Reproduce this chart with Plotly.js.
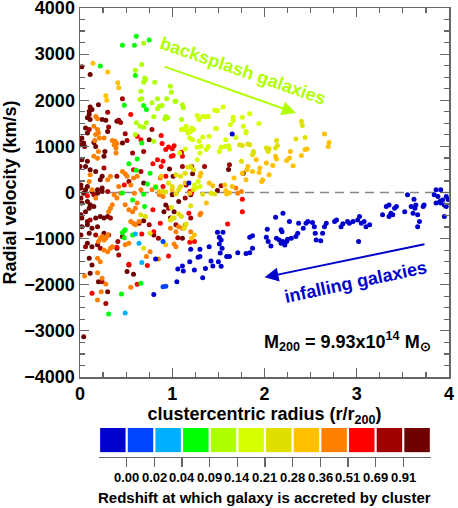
<!DOCTYPE html>
<html>
<head>
<meta charset="utf-8">
<script src="https://cdn.plot.ly/plotly-3.0.1.min.js"></script>
<style>body{margin:0;background:#fff;} #chart{width:458px;height:508px;}</style>
</head>
<body>
<div id="chart"></div>
<script>
// accretion redshift bins (tick labels under the colour bar) and their colours
var zLabels = ['0.00','0.02','0.04','0.09','0.14','0.21','0.28','0.36','0.51','0.69','0.91'];
var binColors = ['#0000CC','#0044FF','#00B0FF','#00FF00','#B0FF00','#D6FF00','#E0E000',
                 '#FFC000','#FF8000','#FF0000','#A00000','#6E0000'];

// [r/r200, radial velocity km/s] per bin
var infall = [[0.82,-1440],[0.80,-2210],[1.05,-1935],[1.06,-1660],[1.12,-1700],[1.11,-1595],[1.19,-1500],[1.24,-1680],
  [1.28,-1405],[1.30,-1230],[1.33,-1850],[1.36,-1645],[1.40,-1175],[1.44,-1595],[1.49,-860],[1.55,-860],[1.51,-970],
  [1.53,-1030],[1.51,-1115],[1.54,-1210],[1.52,-1310],[1.50,-1500],[1.53,-1600],[1.59,-1390],[1.62,-1390],[1.71,-1305],
  [1.80,-1320],[1.84,-1305],[1.87,-1210],[1.84,-970],[1.87,-940],[2.03,-795],[2.02,-970],[2.04,-1065],[2.07,-1160],
  [2.12,-535],[2.20,-450],[2.18,-810],[2.19,-850],[2.13,-990],[2.16,-1030],[2.20,-1065],[2.18,-1100],[2.22,-1140],
  [2.24,-1065],[2.27,-630],[2.25,-1015],[2.29,-990],[2.34,-955],[2.36,-885],[2.37,-665],[2.42,-775],[2.45,-665],
  [2.47,-630],[2.52,-650],[2.54,-740],[2.55,-885],[2.56,-1030],[2.61,-1045],[2.63,-885],[2.65,-740],[2.67,-665],
  [2.76,-630],[2.78,-595],[2.83,-740],[2.85,-680],[2.90,-630],[2.92,-665],[2.96,-630],[3.01,-595],[3.03,-520],
  [3.05,-665],[3.08,-630],[3.10,-740],[3.14,-700],[3.02,-1065],[3.28,-485],[3.32,-305],[3.35,-270],[3.37,-450],
  [3.39,-485],[3.35,-520],[3.41,-340],[3.43,-305],[3.52,-415],[3.55,-50],[3.59,-305],[3.63,-340],[3.64,-270],
  [3.61,-450],[3.66,-485],[3.68,-630],[3.66,-740],[3.72,-305],[3.73,-270],[3.62,-145],[3.86,60],[3.84,-50],
  [3.88,-85],[3.86,-230],[3.91,-230],[3.93,-160],[3.95,-270],[3.97,-305],[3.95,-520],[3.97,-85],[3.90,-195],
  [3.91,60],[3.99,-150],[1.65,1270],[1.18,205],[1.30,-1390],[1.42,-1485],[1.20,-1230]];
var z002 = [[0.90,-1065],[0.90,-2045],[0.93,-2030]];
var z004 = [[0.64,-1100],[0.60,-900],[0.67,-1520],[0.49,-2610]];
var z009 = [[0.61,3390],[0.46,3195],[0.59,3190],[0.75,3305],[0.22,2740],[0.60,2535],[0.48,1890],[0.69,1885],
  [0.72,1800],[0.67,1075],[0.62,725],[0.53,625],[0.61,480],[0.76,420],[0.73,185],[0.82,115],[0.46,-10],[0.69,-40],
  [0.48,-830],[0.46,-870],[0.49,-810],[0.48,-980],[0.57,-920],[0.57,-160],[0.70,-305],[0.45,-2200],[0.66,-1970],
  [0.31,-2635]];
var z014 = [[0.69,3235],[0.67,2775],[0.60,2650],[0.71,2450],[0.69,2390],[0.70,2485],[0.81,2390],[0.66,2195],
  [0.67,2030],[0.65,2015],[0.78,1945],[0.84,2030],[0.89,1885],[0.98,2305],[0.99,2175],[1.03,1980],[1.04,1980],
  [1.11,1905],[1.12,1835],[0.84,1815],[0.93,1650],[0.92,1595],[0.95,1620],[0.80,1640],[0.61,1510],[0.72,1510],
  [1.10,1580],[0.94,2035],[0.86,1870],[0.69,1415],[0.65,1435],[0.60,1255],[0.80,1110]];
var z021 = [[1.22,1380],[1.17,1290],[1.22,1145],[1.14,945],[1.27,1670],[1.33,1650],[1.36,1640],[1.29,1580],
  [1.21,1400],[1.23,1365],[1.17,1340],[1.10,1365],[1.19,1180],[1.33,1205],[1.29,1110],[1.27,980],[1.31,1000],
  [1.46,1785],[1.49,1775],[1.55,1855],[1.47,1385],[1.48,1380],[1.40,1220],[1.53,980],[1.57,1000],[1.51,890],
  [1.61,1015],[1.62,945],[1.15,1435],[1.13,1365],[1.20,1325],[1.39,1650],[1.30,855],[1.37,930],[1.39,1000],
  [1.27,710],[1.08,855],[1.66,1630],[1.66,1560],[1.76,1630],[1.84,1710],[1.63,1470],[1.77,1435],[1.80,1325],
  [1.80,1290],[1.94,1495],[1.69,1195],[1.58,1145],[1.24,165],[1.28,240],[1.30,130],[1.26,95]];
var z028 = [[1.73,1035],[1.76,1020],[1.82,1050],[1.84,1035],[1.88,890],[1.87,820],[1.88,855],[2.02,965],
  [2.05,950],[2.04,890],[2.13,1130],[2.14,1020],[2.12,965],[2.34,1160],[2.44,1195],[2.40,1545],[2.41,1450],
  [1.75,675],[0.90,20],[0.93,10],[1.04,-35],[0.66,-485],[0.71,-520],[0.76,-885],[0.69,-1210],[0.98,-595],
  [1.00,-555],[1.02,-555],[0.99,-325],[1.07,-465],[1.10,-520],[1.13,-775],[1.15,-685],[1.20,-285],[1.23,60],
  [1.09,130],[0.82,130],[1.04,385],[1.09,350],[1.14,420],[1.17,550],[1.23,495],[1.20,565],[0.96,205],[1.00,130],
  [1.07,60],[1.33,-40],[1.42,-15],[1.46,-30]];
var z036 = [[2.65,1270],[2.70,1085],[2.69,1000],[2.46,945],[2.44,930],[2.40,800],[2.31,580],[2.27,750],[2.28,890],
  [2.24,695],[2.12,785],[2.13,725],[2.09,585],[2.05,385],[2.02,640],[1.95,530],[1.94,435],[1.91,710],[1.98,275],
  [1.97,240],[1.87,455],[1.82,565],[1.81,495],[1.80,275],[1.76,420],[1.67,315],[1.65,130],[1.57,165],[1.58,45],
  [0.14,2800],[0.30,2610],[0.41,2380],[0.42,2270],[0.28,2100],[0.29,2000],[0.88,350],[0.86,20],[1.00,60],
  [1.31,420],[1.30,350],[1.40,205],[1.44,145],[1.19,-15],[1.59,-35],[1.62,-5],[1.14,205],[1.21,-990],[1.24,-920],
  [0.93,-1135],[1.37,-230]];
var z051 = [[0.17,1650],[0.19,1600],[0.15,1435],[0.19,1365],[0.20,1290],[0.17,1255],[0.21,1180],[0.16,1130],
  [0.35,1130],[0.38,1110],[0.40,1060],[0.37,1035],[0.39,965],[0.26,1180],[0.20,890],[0.15,785],[0.19,745],
  [0.39,855],[0.11,385],[0.10,240],[0.30,275],[0.33,350],[0.46,455],[0.49,405],[0.51,350],[0.42,130],[0.58,315],
  [0.62,350],[0.55,165],[0.66,60],[0.78,60],[0.87,315],[0.59,-15],[0.13,60],[0.17,-120],[0.31,-415],[0.33,-340],
  [0.35,-265],[0.37,-50],[0.40,-120],[0.44,-15],[0.49,-265],[0.53,-375],[0.57,-415],[0.60,-340],[0.62,-230],
  [0.55,-630],[0.58,-665],[0.60,-700],[0.64,-630],[0.22,-990],[0.24,-955],[0.28,-990],[0.26,-1030],[0.20,-1065],
  [0.30,-920],[0.26,-1245],[0.30,-1285],[0.33,-1210],[0.35,-1175],[0.19,-1425],[0.22,-1500],[0.49,-1135],
  [0.53,-1100],[0.19,-1740],[0.24,-1860],[0.28,-1985],[0.23,-2150],[0.19,-2330],[0.05,-1810],[0.55,-2055],
  [0.85,-1440],[0.72,-1390],[0.76,-1285],[0.98,-775],[1.04,-850],[1.07,-740],[1.04,-1175],[1.11,-775],[1.14,-700],
  [1.20,-850],[0.86,-50],[0.90,-85],[1.30,-485],[1.31,-450],[1.02,-1115],[1.69,95],[1.71,-15],[1.75,20]];
var z069 = [[0.55,1690],[0.88,1235],[0.89,1060],[0.93,930],[0.96,985],[1.02,1015],[1.00,950],[0.99,785],[1.01,800],
  [1.10,870],[1.11,785],[0.90,675],[0.93,350],[1.19,20],[0.84,710],[0.79,625],[0.66,1145],[0.62,1220],[0.58,495],
  [0.88,565],[0.08,-70],[1.76,-145],[1.76,-415],[1.60,-685],[1.24,-1065],[1.19,-1080],[0.96,-1375],[0.13,-2185],
  [0.73,-1585],[0.62,-1990],[0.53,-1555],[0.40,-1185],[0.87,-665],[0.79,-375],[0.80,-850],[0.67,-900],[1.18,-450],
  [0.90,130],[0.48,165],[1.21,0]];
var z091 = [[0.46,2035],[0.30,1740],[0.42,1565],[0.44,1520],[0.31,1420],[0.49,1275],[0.51,1130],[0.78,1365],
  [0.69,890],[0.57,855],[0.26,530],[0.40,350],[0.66,455],[0.53,240],[0.15,-50],[0.30,20],[0.33,-555],[0.31,-920],
  [0.22,-1210],[0.42,-1355],[0.53,-1570],[0.41,-1065],[0.64,-665],[0.75,-700],[0.85,-990],[0.96,-340],[1.04,-700],
  [1.20,-555],[1.06,-980],[1.14,-120],[1.35,565],[1.11,565],[1.15,165],[0.10,1365],[0.11,-595],[0.17,-920],
  [0.06,-1175],[0.24,-1935],[0.28,-2405],[1.62,600],[1.53,145]];
var zHigh = [[0.02,2725],[0.11,2560],[0.20,1905],[0.11,1855],[0.10,1760],[0.13,1800],[0.10,1690],[0.08,1620],
  [0.11,1580],[0.24,1580],[0.28,1565],[0.40,1545],[0.06,1400],[0.08,1290],[0.30,1325],[0.46,1075],[0.02,1180],
  [0.00,1145],[0.04,1075],[0.01,1035],[0.05,1000],[0.15,1085],[0.17,1000],[0.27,890],[0.26,785],[0.75,1145],
  [0.02,710],[0.08,675],[0.00,565],[0.06,565],[0.11,495],[0.17,455],[0.24,350],[0.22,275],[0.69,205],[0.01,165],
  [0.06,60],[0.13,20],[0.19,-15],[0.24,20],[0.01,95],[0.04,-15],[0.08,130],[0.01,-120],[0.02,-230],[0.08,-195],
  [0.11,-265],[0.19,60],[0.24,95],[0.01,-485],[0.06,-415],[0.10,-340],[0.15,-305],[0.02,-555],[0.08,-630],
  [0.17,-555],[0.22,-520],[0.26,-555],[0.30,-520],[0.02,-740],[0.08,-700],[0.13,-775],[0.19,-740],[0.01,-920],
  [0.10,-885],[0.26,-885],[0.08,-1100],[0.13,-1175],[0.19,-1135],[0.10,-1425],[0.13,-1570],[0.11,-1750],
  [0.20,-1935],[0.30,-2150],[0.04,-3130],[0.40,-1210],[0.58,-1775],[0.51,-1715],[0.46,-955],[0.69,-615],
  [0.80,-920],[0.91,-415],[1.02,-415],[0.98,-555],[1.11,-990],[1.00,-50],[1.07,-195],[1.20,-50],[1.61,500],
  [1.77,420],[1.49,45],[1.22,405],[1.01,350],[0.97,510],[0.93,-270],[1.21,565]];

// bins in colour-bar order; drawn oldest first so the infalling ones sit on top
var bins = [infall, z002, z004, z009, z014, z021, z028, z036, z051, z069, z091, zHigh];

var fam = 'Liberation Sans, Arial, Helvetica, sans-serif';
var data = [];
for (var i = bins.length - 1; i >= 0; i--) {
  data.push({
    type: 'scatter',
    mode: 'markers',
    x: bins[i].map(function(p){ return p[0]; }),
    y: bins[i].map(function(p){ return p[1]; }),
    marker: {color: binColors[i], size: 5, line: {width: 0}},
    hoverinfo: 'x+y',
    showlegend: false
  });
}

// the colour bar, one box per bin
data.push({
  type: 'bar',
  x: binColors.map(function(c, i){ return i + 0.5; }),
  y: binColors.map(function(){ return 1; }),
  width: 0.92,
  marker: {color: binColors, line: {width: 0}},
  xaxis: 'x2', yaxis: 'y2',
  hoverinfo: 'skip',
  showlegend: false
});

var tickFont = {family: fam, size: 18, color: '#000', weight: 'bold'};
var frame = '#666';

// colour-bar labels sit on the bin boundaries
var barLabels = zLabels.map(function(t, i){
  return {x: i + 1, xref: 'x2', y: 0.0229, yref: 'paper', yanchor: 'middle', text: t, showarrow: false,
          font: {family: fam, size: 13, color: '#000', weight: 'bold'}};
});

var layout = {
  width: 458, height: 508,
  margin: {l: 80, r: 9, t: 8, b: 20},
  paper_bgcolor: '#fff', plot_bgcolor: '#fff',
  font: {family: fam, color: '#000', weight: 'bold'},
  showlegend: false,
  xaxis: {
    domain: [0, 1], anchor: 'y', range: [0, 4], tickvals: [0, 1, 2, 3, 4],
    ticks: 'inside', ticklen: 9, tickwidth: 1.2, tickcolor: frame,
    minor: {dtick: 0.25, ticks: 'inside', ticklen: 5, tickwidth: 1.2, tickcolor: frame},
    showline: true, linecolor: frame, linewidth: 1.5, mirror: 'allticks',
    showgrid: false, zeroline: false, tickfont: tickFont, ticklabeloverflow: 'allow',
    title: {text: 'clustercentric radius (r/r<sub>200</sub>)', font: {family: fam, size: 18, weight: 'bold'}, standoff: 4}
  },
  yaxis: {
    domain: [0.23125, 1], anchor: 'x', range: [-4000, 4000], dtick: 1000,
    ticks: 'inside', ticklen: 9, tickwidth: 1.2, tickcolor: frame,
    minor: {dtick: 250, ticks: 'inside', ticklen: 5, tickwidth: 1.2, tickcolor: frame},
    showline: true, linecolor: frame, linewidth: 1.5, mirror: 'allticks',
    showgrid: false, zeroline: false, tickfont: tickFont, ticklabelstandoff: 0,
    ticklabeloverflow: 'allow',
    title: {text: 'Radial velocity (km/s)', font: {family: fam, size: 18, weight: 'bold'}, standoff: 8}
  },
  xaxis2: {
    domain: [0.0515, 0.951], anchor: 'y2', range: [0, 12],
    tickvals: zLabels.map(function(t, i){ return i + 1; }), showticklabels: false,
    ticks: 'outside', ticklen: 9, tickwidth: 1.2, tickcolor: frame,
    showline: true, linecolor: frame, linewidth: 1.5,
    showgrid: false, zeroline: false
  },
  yaxis2: {domain: [0.0646, 0.125], anchor: 'x2', range: [-0.2, 1], visible: false, fixedrange: true},
  shapes: [{
    type: 'line', xref: 'paper', x0: 0, x1: 1, yref: 'y', y0: 0, y1: 0,
    line: {color: '#888', width: 1.5, dash: '9px,6px'}, layer: 'below'
  }],
  annotations: barLabels.concat([
    {x: 0.501, y: -0.019, xref: 'paper', yref: 'paper', showarrow: false, yanchor: 'middle',
     text: 'Redshift at which galaxy is accreted by cluster',
     font: {family: fam, size: 15, color: '#000', weight: 'bold'}},
    {x: 1.77, y: 2645, xref: 'x', yref: 'y', text: 'backsplash galaxies', showarrow: false,
     textangle: 19, font: {family: fam, size: 18, color: '#B0FF00', weight: 'bold'}},
    {x: 2.34, y: 1725, ax: 0.90, ay: 2740, xref: 'x', yref: 'y', axref: 'x', ayref: 'y', text: '',
     showarrow: true, arrowhead: 2, arrowsize: 1.4, arrowwidth: 2, arrowcolor: '#B0FF00'},
    {x: 2.99, y: -1935, xref: 'x', yref: 'y', text: 'infalling galaxies', showarrow: false,
     textangle: -12, font: {family: fam, size: 18, color: '#0000CC', weight: 'bold'}},
    {x: 2.0, y: -1840, ax: 3.75, ay: -1115, xref: 'x', yref: 'y', axref: 'x', ayref: 'y', text: '',
     showarrow: true, arrowhead: 2, arrowsize: 1.4, arrowwidth: 2, arrowcolor: '#0000CC'},
    {x: 2.90, y: -3240, xref: 'x', yref: 'y', showarrow: false,
     text: 'M<sub>200</sub> = 9.93x10<sup>14</sup> M<sub>\u2299</sub>',
     font: {family: fam, size: 18, color: '#000', weight: 'bold'}}
  ])
};

Plotly.newPlot('chart', data, layout, {responsive: false, displayModeBar: false, staticPlot: true});
</script>
</body>
</html>
